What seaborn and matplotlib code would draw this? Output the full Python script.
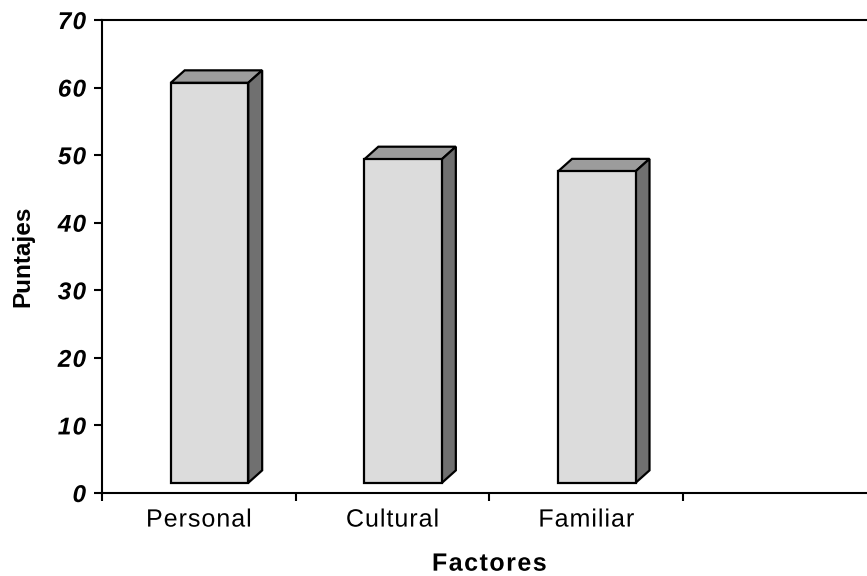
import numpy as np
import pandas as pd
import matplotlib
matplotlib.use("Agg")
import matplotlib.pyplot as plt
import seaborn as sns
from matplotlib.patches import Polygon
from matplotlib.path import Path
from matplotlib.patheffects import AbstractPathEffect
from matplotlib.ticker import FixedLocator, NullFormatter

# ---- data -------------------------------------------------------------
factores = ["Personal", "Cultural", "Familiar"]
puntajes = [60.7, 49.4, 47.6]
y_ticks = [0, 10, 20, 30, 40, 50, 60, 70]

# ---- 3-D column styling ------------------------------------------------
FRONT = "#dcdcdc"
TOP = "#9c9c9c"
SIDE = "#707070"
FLOOR = 1.5        # front faces start slightly above the value axis
DEPTH_X = 0.072    # receding depth (category units)
DEPTH_Y = 1.85     # receding depth (value units)
BAR_W = 0.40
BAR_SHIFT = 0.055
EDGE_LW = 1.6


class LetterSpacing(AbstractPathEffect):
    """Spread the glyphs of a text path apart (spacing given in em)."""

    def __init__(self, spacing=0.05, anchor="center"):
        super().__init__()
        self.spacing = spacing * 100.0   # text paths use 100 units per em
        self.anchor = anchor

    def draw_path(self, renderer, gc, tpath, affine, rgbFace=None):
        codes = tpath.codes
        verts = np.array(tpath.vertices, dtype=float)
        if codes is None or len(verts) == 0:
            renderer.draw_path(gc, tpath, affine, rgbFace)
            return
        starts = list(np.flatnonzero(codes == Path.MOVETO)) + [len(codes)]
        shift = np.zeros(len(verts))
        idx, lo, hi = -1, 0.0, 0.0
        for a, b in zip(starts[:-1], starts[1:]):
            m = codes[a:b] != Path.CLOSEPOLY
            xs = verts[a:b, 0][m]
            if len(xs) == 0:
                continue
            c = 0.5 * (xs.min() + xs.max())
            if idx < 0 or not (lo <= c <= hi):
                idx += 1
                lo, hi = xs.min(), xs.max()
            else:
                lo, hi = min(lo, xs.min()), max(hi, xs.max())
            shift[a:b] = idx * self.spacing
        extra = max(idx, 0) * self.spacing
        if self.anchor == "center":
            shift -= extra / 2.0
        elif self.anchor == "right":
            shift -= extra
        verts[:, 0] += shift
        renderer.draw_path(gc, Path(verts, codes), affine, rgbFace)


sns.set_theme(style="white", rc={"text.color": "black",
                                 "axes.labelcolor": "black",
                                 "xtick.color": "black",
                                 "ytick.color": "black"})
plt.rcParams["font.family"] = ["Liberation Sans", "DejaVu Sans"]

fig = plt.figure(figsize=(8.67, 5.76), dpi=100)
ax = fig.add_axes([102 / 867, 83 / 576, 765 / 867, 473 / 576])

df = pd.DataFrame({"Factores": factores, "Puntajes": puntajes})
sns.barplot(data=df, x="Factores", y="Puntajes", color=FRONT, saturation=1,
            width=BAR_W, edgecolor="black", linewidth=EDGE_LW, ax=ax,
            zorder=3)

# turn each flat bar into a box: front face, top face and right side
for patch in list(ax.patches):
    x0 = patch.get_x() + BAR_SHIFT
    w = patch.get_width()
    top = patch.get_y() + patch.get_height()
    patch.set_x(x0)
    patch.set_y(FLOOR)
    patch.set_height(top - FLOOR)
    patch.set_joinstyle("miter")
    x1 = x0 + w
    ax.add_patch(Polygon([(x0, top), (x1, top), (x1 + DEPTH_X, top + DEPTH_Y),
                          (x0 + DEPTH_X, top + DEPTH_Y)], closed=True,
                         facecolor=TOP, edgecolor="black", linewidth=EDGE_LW,
                         joinstyle="miter", zorder=2))
    ax.add_patch(Polygon([(x1, FLOOR), (x1, top), (x1 + DEPTH_X, top + DEPTH_Y),
                          (x1 + DEPTH_X, FLOOR + DEPTH_Y)], closed=True,
                         facecolor=SIDE, edgecolor="black", linewidth=EDGE_LW,
                         joinstyle="miter", zorder=2))

ax.set_xlim(-0.5, 3.45)
ax.set_ylim(0, 70)

# spines: left, bottom and the top frame line
for side in ("left", "bottom", "top"):
    ax.spines[side].set_visible(True)
    ax.spines[side].set_color("black")
    ax.spines[side].set_linewidth(1.5)
ax.spines["right"].set_visible(False)

# y axis
ax.yaxis.set_major_locator(FixedLocator(y_ticks))
ax.set_yticklabels([str(v) for v in y_ticks], fontsize=17.5, fontweight="bold",
                   fontstyle="italic", color="black")
ax.tick_params(axis="y", which="major", direction="out", length=5.5, width=1.5,
               color="black", pad=6, left=True)

# x axis: ticks on the category boundaries, labels under the categories
ax.xaxis.set_major_locator(FixedLocator([-0.5, 0.5, 1.5, 2.5]))
ax.xaxis.set_major_formatter(NullFormatter())
ax.set_xticks([0, 1, 2], minor=True)
ax.set_xticklabels(factores, minor=True, fontsize=18, color="black")
ax.tick_params(axis="x", which="major", direction="out", length=6, width=1.5,
               color="black", bottom=True)
ax.tick_params(axis="x", which="minor", length=0, pad=10.5)

ax.set_xlabel("Factores", fontsize=18, fontweight="bold", color="black")
ax.set_ylabel("Puntajes", fontsize=17.5, fontweight="bold", color="black")
ax.xaxis.set_label_coords(2.0 / 3.95, -0.124)
ax.yaxis.set_label_coords(-0.088, 0.5)

for lbl in ax.get_yticklabels():
    lbl.set_path_effects([LetterSpacing(0.05, "right")])
for lbl in ax.get_xticklabels(minor=True):
    lbl.set_path_effects([LetterSpacing(0.04, "center")])
ax.xaxis.label.set_path_effects([LetterSpacing(0.06, "center")])

ax.grid(False)
ax.set_facecolor("white")
fig.patch.set_facecolor("white")

fig.savefig("out.png", dpi=100)
